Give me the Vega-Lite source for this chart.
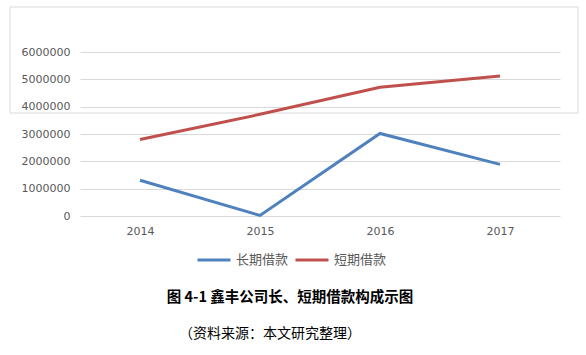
{
  "$schema": "https://vega.github.io/schema/vega-lite/v6.json",
  "usermeta": {"embedOptions": {"actions": false}},
  "width": 480,
  "height": 164,
  "autosize": "none",
  "padding": {"left": 80, "top": 52, "right": 26, "bottom": 139},
  "background": "white",
  "data": {"values": [
    {"year": "2014", "series": "长期借款", "value": 1310000},
    {"year": "2015", "series": "长期借款", "value": 20000},
    {"year": "2016", "series": "长期借款", "value": 3020000},
    {"year": "2017", "series": "长期借款", "value": 1890000},
    {"year": "2014", "series": "短期借款", "value": 2800000},
    {"year": "2015", "series": "短期借款", "value": 3720000},
    {"year": "2016", "series": "短期借款", "value": 4710000},
    {"year": "2017", "series": "短期借款", "value": 5120000}
  ]},
  "layer": [
    {
      "data": {"values": [{"frame": 1}]},
      "mark": {"type": "rect", "fill": "transparent", "stroke": "#d9d9d9", "strokeWidth": 1},
      "encoding": {"x": {"value": -70}, "x2": {"value": 498}, "y": {"value": -45}, "y2": {"value": 61}}
    },
    {
      "mark": {"type": "line", "strokeWidth": 3},
      "encoding": {
        "x": {"field": "year", "type": "ordinal", "scale": {"type": "point", "padding": 0.5},
          "axis": {"title": null, "labelAngle": 0, "domain": false, "ticks": false, "grid": false, "labelPadding": 9, "labelFont": "DejaVu Sans", "labelFontSize": 11, "labelColor": "#595959"}},
        "y": {"field": "value", "type": "quantitative", "scale": {"domain": [0, 6000000]},
          "axis": {"title": null, "values": [0, 1000000, 2000000, 3000000, 4000000, 5000000, 6000000], "format": "d", "domain": false, "ticks": false, "labelPadding": 10, "labelFont": "DejaVu Sans", "labelFontSize": 11, "labelColor": "#595959", "gridColor": "#d9d9d9", "gridWidth": 1}},
        "color": {"field": "series", "type": "nominal",
          "scale": {"domain": ["长期借款", "短期借款"], "range": ["#4f81bd", "#c0504d"]},
          "legend": {"title": null, "orient": "none", "direction": "horizontal", "legendX": 116, "legendY": 190, "symbolType": "stroke", "symbolSize": 1089, "symbolStrokeWidth": 3, "labelFont": "Noto Sans CJK SC", "labelFontSize": 13, "labelColor": "#595959", "labelOffset": 4, "columnPadding": 0, "padding": 0}}
      }
    }
  ],
  "title": {
    "text": "图 4-1 鑫丰公司长、短期借款构成示图",
    "subtitle": "（资料来源：本文研究整理）\u2800\u2800\u2800\u2800",
    "orient": "bottom",
    "anchor": "middle",
    "frame": "group",
    "dx": -30,
    "offset": 24,
    "font": "Noto Sans CJK SC",
    "fontSize": 14.5,
    "fontWeight": "bold",
    "color": "#000000",
    "subtitleFont": "Noto Sans CJK SC",
    "subtitleFontSize": 14,
    "subtitleColor": "#000000",
    "subtitlePadding": 21
  },
  "config": {"view": {"stroke": null}}
}
